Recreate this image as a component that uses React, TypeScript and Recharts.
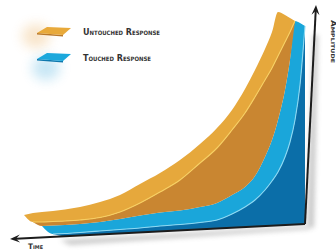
import React from 'react';
import { ComposedChart, Area, Line, XAxis, YAxis, ReferenceLine } from 'recharts';

// time samples along the ribbons (left tip -> right edge)
const time = [24, 33, 42, 53, 65, 80, 100, 120, 140, 160, 180, 200, 217, 232, 245, 255, 265, 272, 278, 285, 290, 295, 300, 305];

// amplitude of each edge (null = face not present there)
const untouchedTop = [36, 38, 39, 40, 41.5, 44, 49, 56, 67, 78, 91, 107, 123, 141, 162, 181, 202, 219, 239, 236, 233, 230, null, null];
const untouchedEdge = [36, 29, 29, 29.5, 30, 31, 33.5, 39, 48, 59, 71, 88, 103, 121, 138, 154, 171, 183, 195, 209, 219, 230, null, null];
const touchedTop = [null, 29, 25, 25.5, 26, 27, 29, 32, 35.5, 38.5, 40.5, 44, 48, 56, 64, 75, 94, 111, 131, 161, 191, 230, 228, 225];
const touchedEdge = [null, null, 25, 17, 17.5, 18.5, 20, 21.5, 23, 25, 26.5, 28.5, 31, 37, 44, 51, 61, 70, 79, 94, 109, 131, 166, 225];
const floor = [null, null, null, 17, 14.7, 15.5, 16.5, 17.5, 18.5, 19.6, 20.6, 21.6, 22.5, 23.3, 24, 24.5, 25, 25.4, 25.7, 26, 26.3, 26.5, 26.8, 27];

// axis arrows: origin corner and tips
const origin = { x: 305, y: 27 };
const timeTip = { x: 10, y: 12 };
const ampTip = { x: 316, y: 246 };

const legendItems = [
  { name: 'Untouched Response', color: '#e8a93a', dark: '#b9782a', glow: '#e9a548' },
  { name: 'Touched Response', color: '#1ba8dc', dark: '#0d78ae', glow: '#3aa9dc' },
];

const pair = (lo: number | null, hi: number | null) => (lo == null || hi == null ? null : [lo, hi]);

const rows = time.map((t, i) => ({
  t,
  orangeFace: pair(untouchedEdge[i], untouchedTop[i]),
  orangeSide: pair(touchedTop[i], untouchedEdge[i]),
  blueFace: pair(touchedEdge[i], touchedTop[i]),
  blueSide: pair(floor[i], touchedEdge[i]),
  orangeLine: i >= 1 ? untouchedEdge[i] : null,
  blueLine: i >= 3 ? touchedEdge[i] : null,
}));

const labelStyle: React.CSSProperties = {
  fontFamily: '"DejaVu Sans Condensed", "DejaVu Sans", sans-serif',
  fontWeight: 700,
  fontVariant: 'small-caps',
};

const Arrow = (p: any) => {
  const { x1, y1, x2, y2, label, vertical } = p;
  const a = Math.atan2(y2 - y1, x2 - x1);
  const c = Math.cos(a);
  const s = Math.sin(a);
  const len = 10;
  const half = 4;
  const bx = x2 - len * c;
  const by = y2 - len * s;
  const nx = x2 - len * 0.6 * c;
  const ny = y2 - len * 0.6 * s;
  const pts = [
    [x2, y2],
    [bx - half * s, by + half * c],
    [nx, ny],
    [bx + half * s, by - half * c],
  ].map((q) => q.join(',')).join(' ');
  const fid = vertical ? 'shv' : 'shh';
  return (
    <g>
      <defs>
        <filter id={fid} x="-50%" y="-50%" width="200%" height="200%">
          <feGaussianBlur stdDeviation="2.5" />
        </filter>
      </defs>
      {vertical ? (
        <polygon points={`${x1 + 2},${y1 + 3} ${x1 + 9},${y1 + 4} ${x2 + 2},${y2 + 30} ${x2 - 3},${y2 + 30}`} fill="#888" opacity={0.45} filter={`url(#${fid})`} />
      ) : (
        <polygon points={`${x1},${y1 + 2} ${x1 + 6},${y1 + 5} ${x2 + 60},${y2 + 6} ${x2 + 50},${y2 + 1}`} fill="#888" opacity={0.45} filter={`url(#${fid})`} />
      )}
      <line x1={x1} y1={y1} x2={nx} y2={ny} stroke="#1c1c1c" strokeWidth={2} />
      <polygon points={pts} fill="#1c1c1c" />
      {vertical ? (
        <text x={x2 + 15} y={y2 + 15} transform={`rotate(90 ${x2 + 15} ${y2 + 15})`} fontSize={7} fill="#333" style={labelStyle} textLength={43} lengthAdjust="spacingAndGlyphs">
          {label}
        </text>
      ) : (
        <text x={x2 + 18} y={y2 + 10} fontSize={7.5} fill="#333" style={labelStyle} textLength={15} lengthAdjust="spacingAndGlyphs">
          {label}
        </text>
      )}
    </g>
  );
};

const LegendOverlay = () => (
  <svg width={336} height={251} style={{ position: 'absolute', left: 0, top: 0, pointerEvents: 'none' }}>
    <defs>
      <filter id="glow" x="-100%" y="-100%" width="300%" height="300%">
        <feGaussianBlur stdDeviation="6" />
      </filter>
    </defs>
    {legendItems.map((it, i) => {
      const oy = i * 26;
      return (
        <g key={it.name}>
          <ellipse cx={i === 0 ? 36 : 46} cy={i === 0 ? 36 : 68} rx={14} ry={12} fill={it.glow} opacity={0.28} filter="url(#glow)" />
          <polygon points={`37,${33 + oy} 63,${35 + oy} 63,${36.5 + oy} 37,${34.5 + oy}`} fill={it.dark} />
          <polygon points={`37,${33 + oy} 47,${27 + oy} 71,${28 + oy} 63,${35 + oy}`} fill={it.color} />
          <text x={83} y={35 + oy} fontSize={9} fill="#333" style={labelStyle} textLength={i === 0 ? 77 : 68} lengthAdjust="spacingAndGlyphs">
            {it.name}
          </text>
        </g>
      );
    })}
  </svg>
);

export default function App() {
  return (
    <div style={{ position: 'absolute', left: 0, top: 0, width: 336, height: 251, background: '#fff' }}>
      <ComposedChart width={336} height={251} data={rows} margin={{ top: 0, right: 0, bottom: 0, left: 0 }}>
        <XAxis dataKey="t" type="number" domain={[0, 336]} hide allowDataOverflow />
        <YAxis type="number" domain={[0, 251]} hide allowDataOverflow />
        <Area type="monotone" dataKey="blueSide" stroke="none" fill="#0b6ea8" fillOpacity={1} dot={false} activeDot={false} isAnimationActive={false} />
        <Area type="monotone" dataKey="blueFace" stroke="none" fill="#1aa6da" fillOpacity={1} dot={false} activeDot={false} isAnimationActive={false} />
        <Area type="monotone" dataKey="orangeSide" stroke="none" fill="#c98631" fillOpacity={1} dot={false} activeDot={false} isAnimationActive={false} />
        <Area type="monotone" dataKey="orangeFace" stroke="none" fill="#e6a83c" fillOpacity={1} dot={false} activeDot={false} isAnimationActive={false} />
        <Line type="monotone" dataKey="orangeLine" stroke="#f7cf62" strokeWidth={1.1} dot={false} activeDot={false} isAnimationActive={false} />
        <Line type="monotone" dataKey="blueLine" stroke="#8bd8f2" strokeWidth={1.1} dot={false} activeDot={false} isAnimationActive={false} />
        <ReferenceLine segment={[origin, timeTip]} ifOverflow="visible" shape={(p: any) => <Arrow {...p} label="Time" />} />
        <ReferenceLine segment={[origin, ampTip]} ifOverflow="visible" shape={(p: any) => <Arrow {...p} label="Amplitude" vertical />} />
      </ComposedChart>
      <LegendOverlay />
    </div>
  );
}
